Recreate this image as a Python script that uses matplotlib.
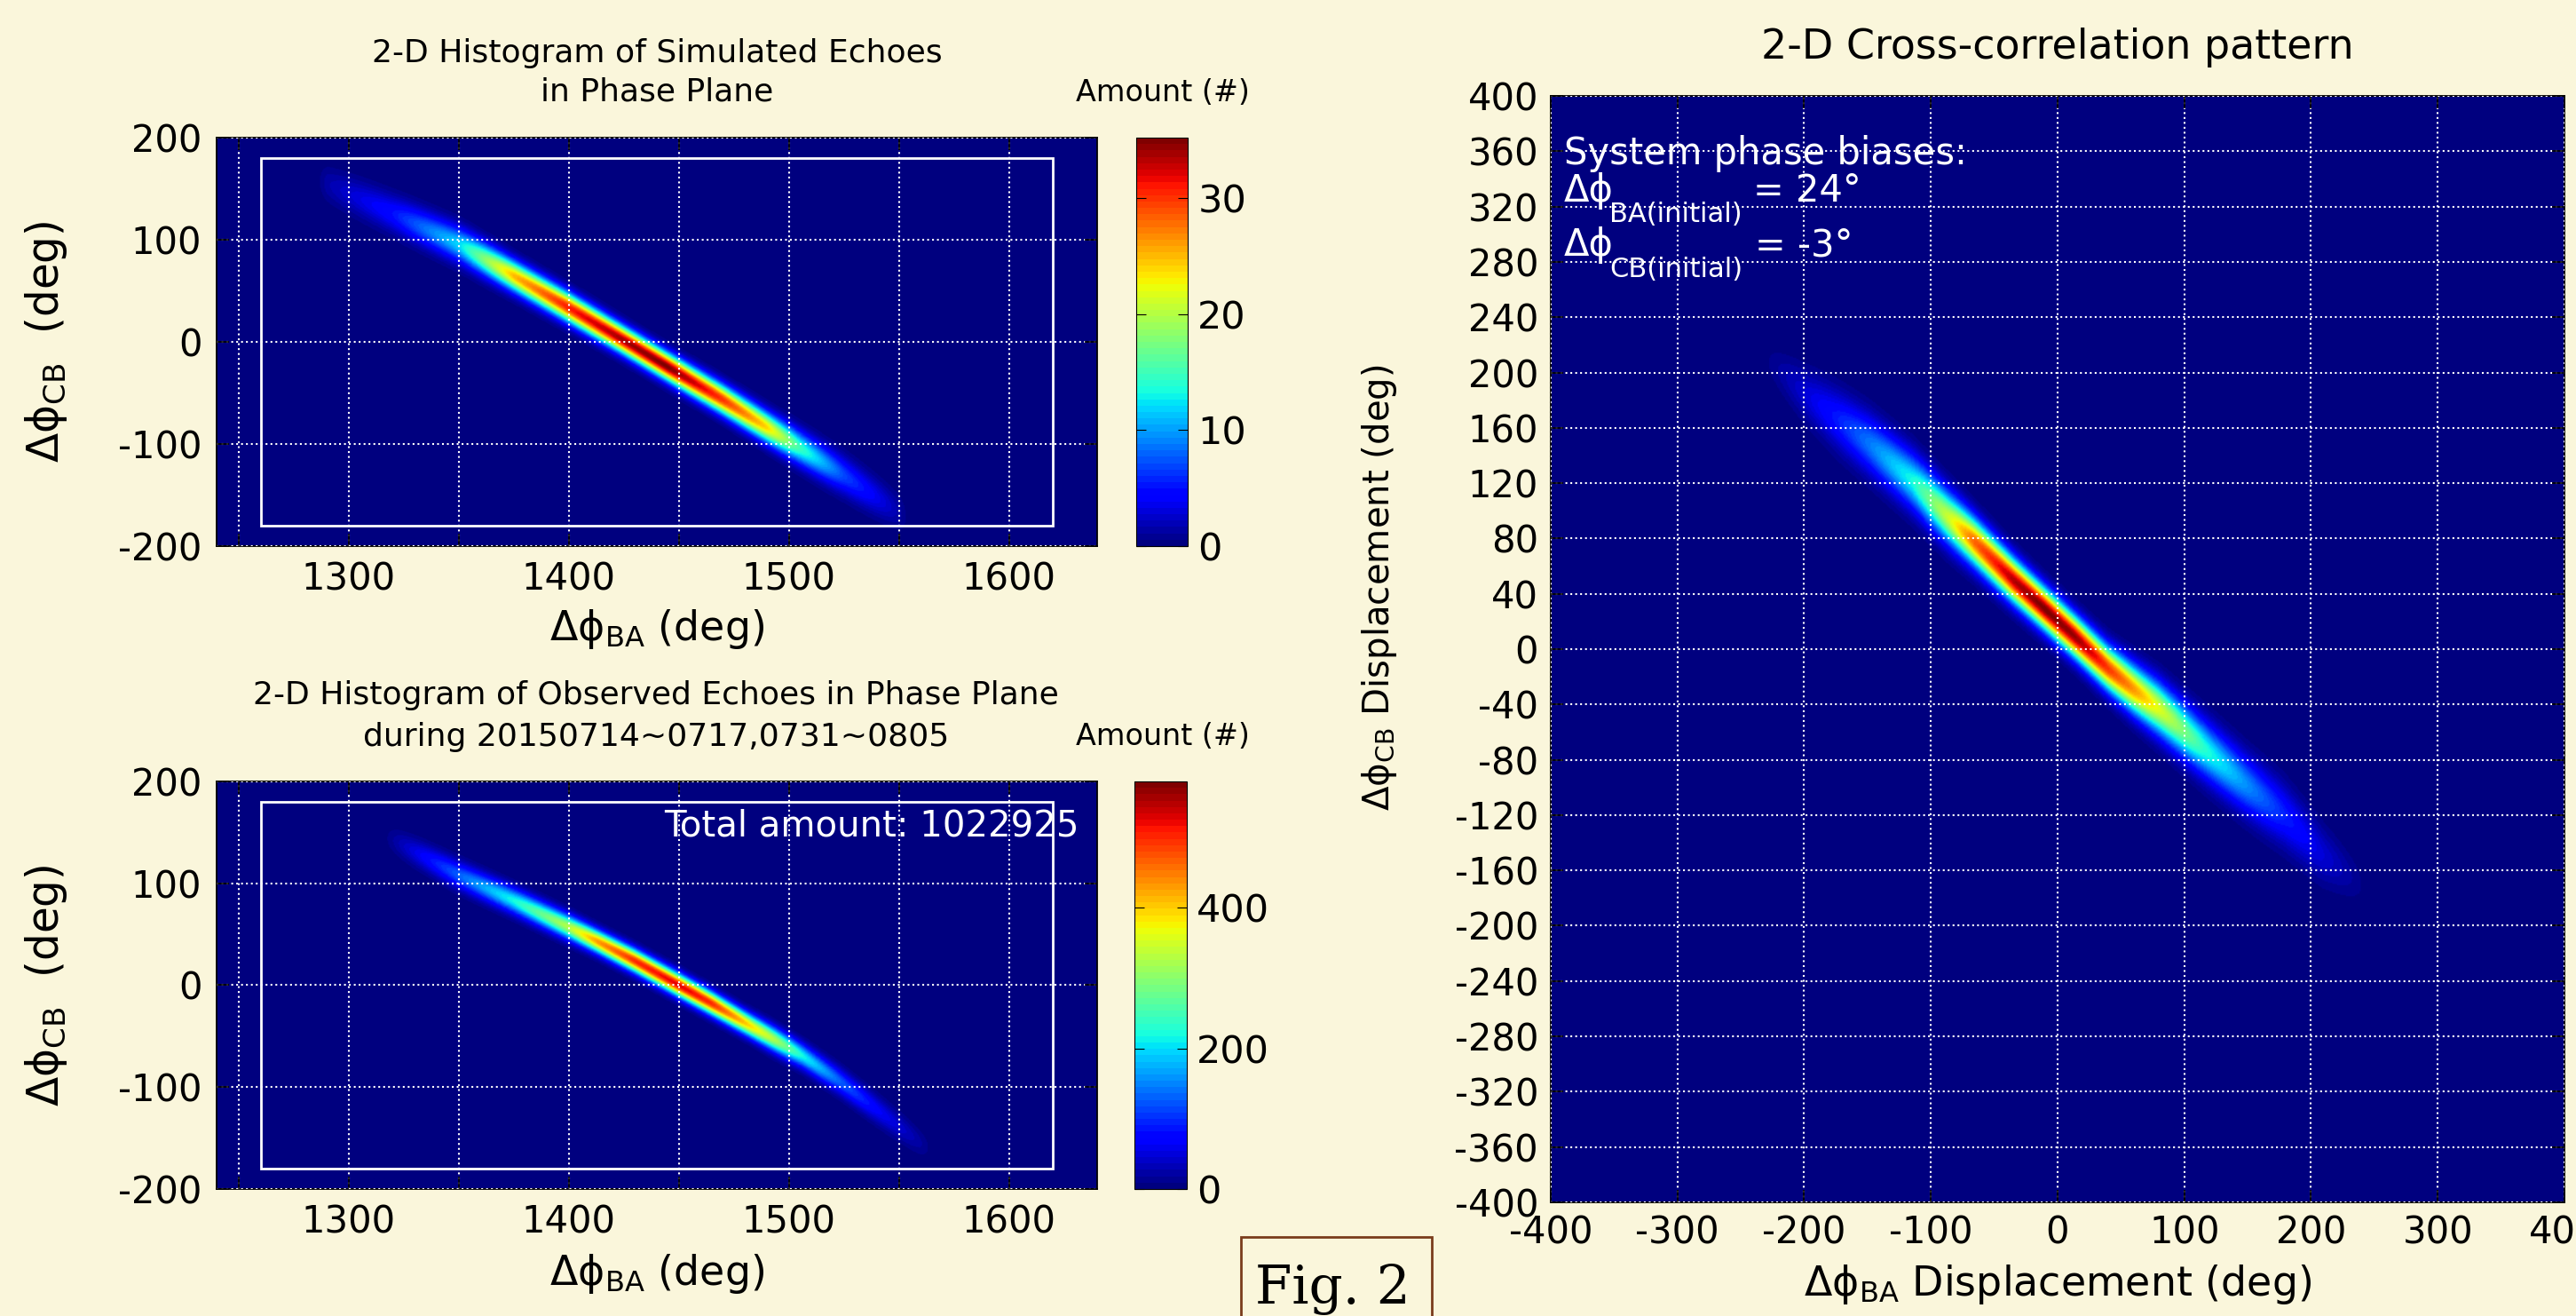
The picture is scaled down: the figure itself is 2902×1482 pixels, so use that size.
import numpy as np
import matplotlib.pyplot as plt
from matplotlib.patches import Rectangle

plt.rcParams['font.family'] = ['DejaVu Sans']
plt.rcParams['mathtext.fontset'] = 'dejavusans'
plt.rcParams['axes.unicode_minus'] = False

# simulated echoes: ridge centre line, peak count and vertical spread along the ridge
sim_x = [1285, 1290, 1320, 1350, 1375, 1400, 1425, 1445, 1470, 1490, 1505, 1525, 1550, 1555]
sim_y = [158, 154, 125, 95, 64, 33, 1, -25, -57, -84, -104, -131, -167, -174]
sim_peak = [0, 1.5, 5, 12, 25, 31, 34, 35, 30, 24, 15, 7, 1.5, 0]
sim_sigma = [12, 12, 12, 11.5, 10, 9.5, 9, 9, 9.5, 10, 11, 12, 12, 12]

# observed echoes
obs_x = [1315, 1322, 1350, 1375, 1400, 1413, 1430, 1450, 1465, 1481, 1494, 1506, 1523, 1540, 1560, 1566]
obs_y = [147, 140, 108, 83, 57, 43, 24, 0, -18, -38, -54, -69, -94, -122, -155, -163]
obs_peak = [0, 25, 130, 220, 330, 430, 500, 530, 500, 400, 320, 220, 130, 70, 20, 0]
obs_sigma = [9, 9, 9, 8.5, 8, 7.5, 7.5, 7.5, 7.5, 7.5, 8, 8, 8.5, 9, 9, 9]

# cross-correlation (normalised)
xc_x = [-235, -226, -200, -175, -148, -115, -86, -66, -35, -10, 15, 40, 60, 80, 116, 149, 179, 210, 238, 246]
xc_y = [214, 206, 185, 167, 148, 122, 95, 78, 50, 29, 8, -14, -29, -43, -72, -98, -120, -149, -169, -175]
xc_peak = [0, 0.02, 0.08, 0.15, 0.25, 0.38, 0.6, 0.8, 0.95, 1.0, 0.97, 0.85, 0.75, 0.62, 0.4, 0.27, 0.16, 0.08, 0.02, 0]
xc_sigma = [10, 10, 12.5, 14, 14, 13.5, 12.5, 11.5, 10.5, 10, 10, 10.5, 11.5, 12.5, 13.5, 14, 14.5, 13.5, 11, 11]

box_ba = [1260, 1620]
box_cb = [-180, 180]
sim_ticks = [0, 10, 20, 30]
obs_ticks = [0, 200, 400]
total_amount = 1022925
bias_ba = 24
bias_cb = -3

bg = '#FAF6DB'
cmap = plt.get_cmap('jet', 64)


def ridge(xs, ys, rx, ry, amp, sig):
    yc = np.interp(xs, rx, ry)
    a = np.interp(xs, rx, amp, left=0, right=0)
    s = np.interp(xs, rx, sig)
    return a * np.exp(-0.5 * ((ys[:, None] - yc) / s) ** 2)


def style(ax):
    ax.grid(True, which='both', color='white', linestyle=':', linewidth=1.5)
    ax.set_axisbelow(False)
    ax.tick_params(which='both', direction='in', top=True, right=True,
                   length=10, width=1.2, labelsize=30, pad=12)
    for s in ax.spines.values():
        s.set_linewidth(1.3)


fig = plt.figure(figsize=(29.02, 14.82), dpi=100, facecolor=bg)

xs = np.linspace(1240, 1640, 800)
ys = np.linspace(-200, 200, 600)

# ---- simulated ----
ax1 = fig.add_axes([0.0841, 0.585, 0.3418, 0.3104])
im1 = ax1.imshow(ridge(xs, ys, sim_x, sim_y, sim_peak, sim_sigma), origin='lower',
                 extent=[1240, 1640, -200, 200], aspect='auto', cmap=cmap,
                 vmin=0, vmax=35.2, interpolation='bilinear')
ax1.set_xlim(1240, 1640)
ax1.set_ylim(-200, 200)
ax1.set_xticks([1300, 1400, 1500, 1600])
ax1.set_xticks([1250, 1350, 1450, 1550], minor=True)
ax1.set_yticks([-200, -100, 0, 100, 200])
style(ax1)
ax1.add_patch(Rectangle((box_ba[0], box_cb[0]), box_ba[1] - box_ba[0], box_cb[1] - box_cb[0],
                        fill=False, ec='white', lw=2))
ax1.set_xlabel(r'Δϕ$_{\mathrm{BA}}$ (deg)', fontsize=33)
ax1.xaxis.set_label_coords(0.5, -0.15)
ax1.set_ylabel(r'Δϕ$_{\mathrm{CB}}$  (deg)', fontsize=35)
ax1.yaxis.set_label_coords(-0.167, 0.5)

cax1 = fig.add_axes([0.4411, 0.585, 0.02, 0.3104])
fig.colorbar(im1, cax=cax1, ticks=sim_ticks)
cax1.tick_params(direction='in', left=True, right=True, length=8, labelsize=31, pad=8)
fig.text(1310 / 2902, 1 - 105 / 1482, 'Amount (#)', fontsize=24, ha='center', va='center')
fig.text(740 / 2902, 1 - 60 / 1482, '2-D Histogram of Simulated Echoes', fontsize=26,
         ha='center', va='center')
fig.text(740 / 2902, 1 - 103 / 1482, 'in Phase Plane', fontsize=26, ha='center', va='center')

# ---- observed ----
ax2 = fig.add_axes([0.0841, 0.0965, 0.3418, 0.3097])
im2 = ax2.imshow(ridge(xs, ys, obs_x, obs_y, obs_peak, obs_sigma), origin='lower',
                 extent=[1240, 1640, -200, 200], aspect='auto', cmap=cmap,
                 vmin=0, vmax=580, interpolation='bilinear')
ax2.set_xlim(1240, 1640)
ax2.set_ylim(-200, 200)
ax2.set_xticks([1300, 1400, 1500, 1600])
ax2.set_xticks([1250, 1350, 1450, 1550], minor=True)
ax2.set_yticks([-200, -100, 0, 100, 200])
style(ax2)
ax2.add_patch(Rectangle((box_ba[0], box_cb[0]), box_ba[1] - box_ba[0], box_cb[1] - box_cb[0],
                        fill=False, ec='white', lw=2))
ax2.text(1632, 146, 'Total amount: %d' % total_amount, color='white', fontsize=29,
         ha='right', va='baseline')
ax2.set_xlabel(r'Δϕ$_{\mathrm{BA}}$ (deg)', fontsize=33)
ax2.xaxis.set_label_coords(0.5, -0.155)
ax2.set_ylabel(r'Δϕ$_{\mathrm{CB}}$  (deg)', fontsize=35)
ax2.yaxis.set_label_coords(-0.167, 0.5)

cax2 = fig.add_axes([0.4404, 0.0965, 0.0203, 0.3097])
fig.colorbar(im2, cax=cax2, ticks=obs_ticks)
cax2.tick_params(direction='in', left=True, right=True, length=8, labelsize=31, pad=8)
fig.text(1310 / 2902, 1 - 830 / 1482, 'Amount (#)', fontsize=24, ha='center', va='center')
fig.text(739 / 2902, 1 - 783 / 1482, '2-D Histogram of Observed Echoes in Phase Plane',
         fontsize=26, ha='center', va='center')
fig.text(739 / 2902, 1 - 830 / 1482, 'during 20150714~0717,0731~0805', fontsize=26,
         ha='center', va='center')

# ---- cross-correlation ----
xr = np.linspace(-400, 400, 900)
yr = np.linspace(-400, 400, 900)
ax3 = fig.add_axes([0.602, 0.0864, 0.3935, 0.8407])
ax3.imshow(ridge(xr, yr, xc_x, xc_y, xc_peak, xc_sigma), origin='lower',
           extent=[-400, 400, -400, 400], aspect='auto', cmap=cmap,
           vmin=0, vmax=1, interpolation='bilinear')
ax3.set_xlim(-400, 400)
ax3.set_ylim(-400, 400)
ax3.set_xticks(np.arange(-400, 401, 100))
ax3.set_yticks(np.arange(-400, 401, 40))
style(ax3)
ax3.tick_params(labelsize=30, pad=10)
ax3.set_title('2-D Cross-correlation pattern', fontsize=33, pad=30)
ax3.set_xlabel(r'Δϕ$_{\mathrm{BA}}$ Displacement (deg)', fontsize=33)
ax3.xaxis.set_label_coords(0.5, -0.055)
ax3.set_ylabel(r'Δϕ$_{\mathrm{CB}}$ Displacement (deg)', fontsize=29)
ax3.yaxis.set_label_coords(-0.15, 0.556)

ax3.text(-389.5, 350.6, 'System phase biases:', color='white', fontsize=30, va='baseline')
ax3.text(-389.5, 323.8, 'Δϕ', color='white', fontsize=30, va='baseline')
ax3.text(-353.8, 308.8, 'BA(initial)', color='white', fontsize=22, va='baseline')
ax3.text(-240, 323.8, '= %d°' % bias_ba, color='white', fontsize=30, va='baseline')
ax3.text(-389.5, 284.4, 'Δϕ', color='white', fontsize=30, va='baseline')
ax3.text(-353.8, 269.0, 'CB(initial)', color='white', fontsize=22, va='baseline')
ax3.text(-238.6, 284.4, '= %d°' % bias_cb, color='white', fontsize=30, va='baseline')

# ---- Fig. 2 tag ----
fig.patches.append(Rectangle((1398 / 2902, -0.01), 215 / 2902, 89 / 1482 + 0.01,
                             transform=fig.transFigure, fill=True, fc=bg,
                             ec='#7A3C1C', lw=2))
fig.text(1414 / 2902, 1 - 1468 / 1482, 'Fig. 2', fontsize=43, family='DejaVu Serif',
         ha='left', va='baseline')

fig.savefig('out.png', dpi=100, facecolor=bg)
